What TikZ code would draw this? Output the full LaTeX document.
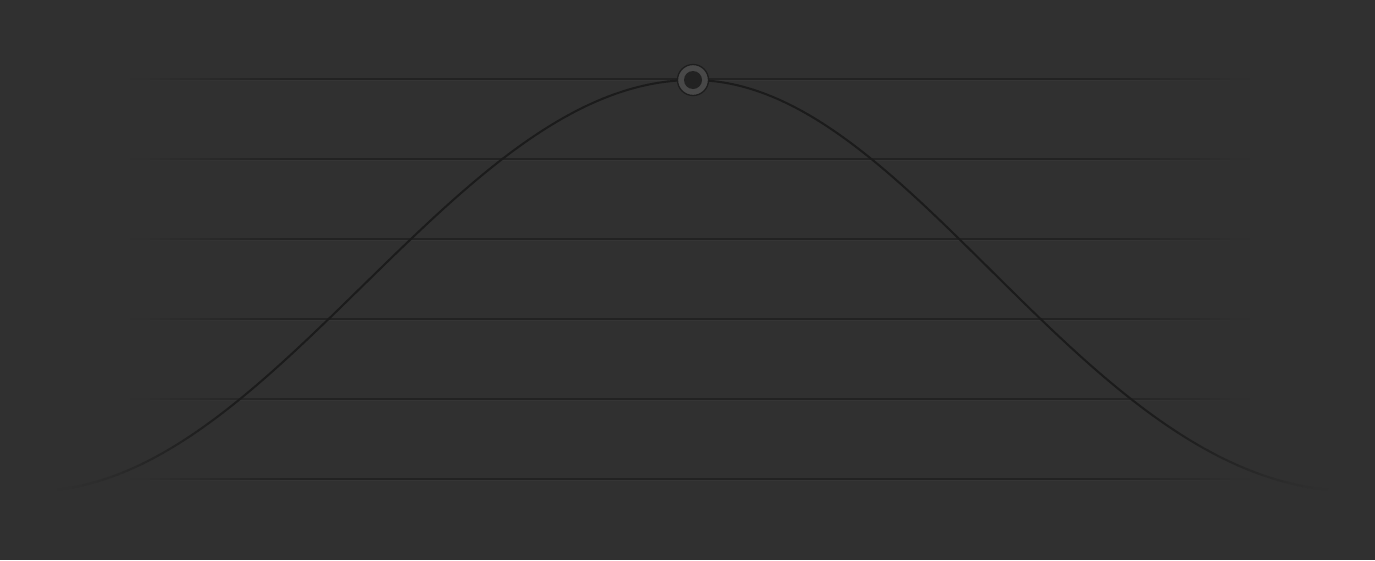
\documentclass[tikz,border=0pt]{standalone}
\definecolor{bgc}{RGB}{48,48,48}
\definecolor{linec}{RGB}{34,34,34}
\definecolor{hic}{RGB}{53,53,53}
\definecolor{curvec}{RGB}{27,27,27}
\definecolor{ringc}{RGB}{72,72,72}
\definecolor{dotc}{RGB}{34,34,34}
\definecolor{rimc}{RGB}{30,30,30}
\begin{document}
\begin{tikzpicture}[x=1pt,y=-1pt,
  declare function={
    fL(\x)=(1+cos((693-\x)*0.272727))/2;
    fR(\x)=(1+cos((\x-693)*0.272727))/2-0.04*(sin((\x-693)*0.272727))^2;
    cy(\x)=491-411*((\x<693) ? fL(\x) : fR(\x));
  },
  markerring/.style={circle, draw=rimc, line width=1.3pt, fill=ringc, minimum size=31pt, inner sep=0pt},
  markerdot/.style={circle, fill=dotc, minimum size=18pt, inner sep=0pt},
  curveseg/.style={line width=2pt, line cap=round},
  gridseg/.style={line width=1.8pt},
  gridhi/.style={line width=1pt}
]
\fill[bgc] (0,0) rectangle (1375,560);
\useasboundingbox (0,0) rectangle (1375,560);
% horizontal guide lines with faded ends, drawn in short pieces
\foreach \k in {0,...,117} {
  \pgfmathsetmacro\xa{100+10*\k}
  \pgfmathsetmacro\xb{\xa+10}
  \pgfmathsetmacro\xm{\xa+5}
  \pgfmathsetmacro\ee{min(\xm-100,1280-\xm)}
  \pgfmathsetmacro\aa{min(1,max(0,\ee/220))}
  \pgfmathtruncatemacro\pct{100*\aa*\aa*(3-2*\aa)}
  \foreach \y in {79,159,239,319,399,479} {
    \draw[gridseg, draw=linec!\pct!bgc] (\xa,\y) -- (\xb,\y);
    \draw[gridhi, draw=hic!\pct!bgc] (\xa,\y+1.6) -- (\xb,\y+1.6);
  }
}
% bell curve drawn in short segments, fading towards both ends
\foreach \k in {0,...,263} {
  \pgfmathsetmacro\xa{33+5*\k}
  \pgfmathsetmacro\xb{\xa+5}
  \pgfmathsetmacro\ya{cy(\xa)}
  \pgfmathsetmacro\yb{cy(\xb)}
  \pgfmathsetmacro\ee{min(\xa-33,1353-\xb)}
  \pgfmathsetmacro\aa{min(1,max(0,\ee/230))}
  \pgfmathtruncatemacro\pct{100*\aa*\aa*(3-2*\aa)}
  \draw[curveseg, draw=curvec!\pct!bgc] (\xa,\ya) -- (\xb,\yb);
}
% peak marker
\node[markerring] (peak) at (693,80) {};
\node[markerdot] (peakdot) at (peak.center) {};
\end{tikzpicture}
\end{document}
